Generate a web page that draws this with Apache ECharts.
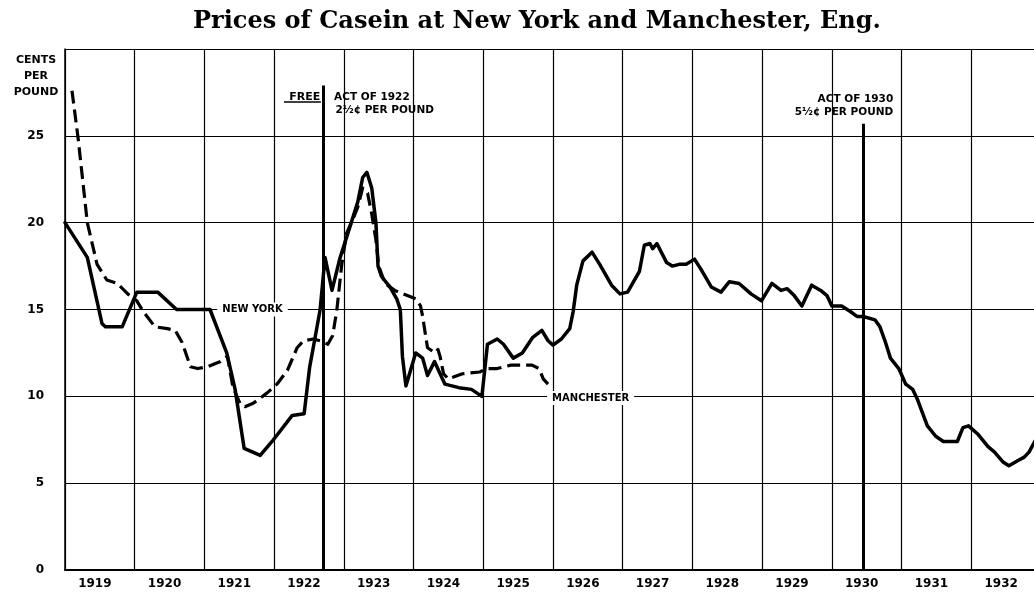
<!DOCTYPE html>
<html><head><meta charset="utf-8">
<script src="https://cdn.jsdelivr.net/npm/echarts@6/dist/echarts.min.js"></script>
<style>html,body{margin:0;padding:0;background:#fff}#c{width:1034px;height:599px}</style>
</head><body><div id="c"></div>
<script>
// ---- data ----
const years = ['1919','1920','1921','1922','1923','1924','1925','1926','1927','1928','1929','1930','1931','1932'];
const yTicks = [0, 5, 10, 15, 20, 25, 30];
const newYork = [
 [1919.00,20.0],[1919.32,18.0],[1919.53,14.2],[1919.58,14.0],[1919.82,14.0],[1920.03,16.0],[1920.33,16.0],
 [1920.60,15.0],[1921.08,15.0],[1921.32,12.5],[1921.44,10.4],[1921.57,7.0],[1921.80,6.6],[1921.97,7.4],
 [1922.26,8.9],[1922.43,9.0],[1922.46,10.0],[1922.51,11.7],[1922.57,13.0],[1922.66,15.0],[1922.73,18.0],
 [1922.83,16.1],[1922.94,17.9],[1923.09,19.8],[1923.20,21.2],[1923.27,22.6],[1923.33,22.9],[1923.40,22.0],
 [1923.46,20.0],[1923.49,17.5],[1923.54,16.9],[1923.66,16.3],[1923.76,15.6],[1923.81,15.0],[1923.84,12.3],
 [1923.89,10.6],[1924.03,12.5],[1924.13,12.2],[1924.20,11.2],[1924.30,12.0],[1924.45,10.7],[1924.65,10.5],
 [1924.83,10.4],[1924.98,10.0],[1925.06,13.0],[1925.20,13.3],[1925.29,13.0],[1925.43,12.2],[1925.56,12.5],
 [1925.71,13.4],[1925.84,13.8],[1925.93,13.2],[1926.00,12.95],[1926.12,13.3],[1926.24,13.9],[1926.29,14.9],
 [1926.34,16.4],[1926.43,17.8],[1926.56,18.3],[1926.67,17.6],[1926.84,16.4],[1926.96,15.9],[1927.07,16.0],
 [1927.24,17.2],[1927.31,18.7],[1927.39,18.8],[1927.43,18.5],[1927.49,18.8],[1927.63,17.7],[1927.71,17.5],
 [1927.81,17.6],[1927.91,17.6],[1928.03,17.9],[1928.14,17.2],[1928.27,16.3],[1928.41,16.0],[1928.53,16.6],
 [1928.67,16.5],[1928.84,15.9],[1928.99,15.5],[1929.14,16.5],[1929.27,16.1],[1929.36,16.2],[1929.46,15.8],
 [1929.57,15.2],[1929.71,16.4],[1929.84,16.1],[1929.93,15.8],[1930.00,15.2],[1930.14,15.2],[1930.26,14.9],
 [1930.36,14.6],[1930.45,14.6],[1930.62,14.4],[1930.69,14.0],[1930.77,13.1],[1930.84,12.2],[1930.96,11.6],
 [1931.06,10.7],[1931.16,10.4],[1931.23,9.8],[1931.37,8.3],[1931.49,7.7],[1931.60,7.4],[1931.80,7.4],
 [1931.88,8.2],[1931.96,8.3],[1932.10,7.8],[1932.24,7.1],[1932.33,6.8],[1932.46,6.2],[1932.54,6.0],
 [1932.67,6.3],[1932.76,6.5],[1932.83,6.8],[1932.91,7.4]
];
const manchester = [
 [1919.10,27.6],[1919.19,24.8],[1919.32,20.0],[1919.46,17.6],[1919.60,16.7],[1919.75,16.5],[1919.90,15.9],
 [1920.03,15.5],[1920.12,14.9],[1920.29,14.0],[1920.47,13.9],[1920.58,13.8],[1920.68,13.1],[1920.80,11.7],
 [1920.90,11.6],[1921.04,11.7],[1921.23,12.0],[1921.33,12.3],[1921.41,10.5],[1921.51,9.6],[1921.58,9.4],
 [1921.70,9.6],[1921.77,9.8],[1921.90,10.2],[1922.04,10.7],[1922.19,11.5],[1922.33,12.8],[1922.42,13.2],
 [1922.56,13.3],[1922.66,13.2],[1922.77,13.0],[1922.84,13.5],[1922.90,15.0],[1922.97,17.6],[1923.04,19.4],
 [1923.13,20.2],[1923.20,20.9],[1923.27,22.0],[1923.34,21.7],[1923.40,20.5],[1923.46,19.0],[1923.50,17.5],
 [1923.59,16.5],[1923.73,16.1],[1924.04,15.6],[1924.10,15.2],[1924.13,14.6],[1924.18,13.3],[1924.20,12.8],
 [1924.31,12.5],[1924.35,12.7],[1924.38,12.3],[1924.43,11.3],[1924.50,11.0],[1924.70,11.3],[1924.95,11.4],
 [1925.05,11.6],[1925.20,11.6],[1925.40,11.8],[1925.70,11.8],[1925.80,11.6],[1925.86,11.0],[1925.93,10.7],
 [1925.98,10.6]
];
const actYears = [1922.71, 1930.45];
const actTops = [27.9, 25.7];

// ---- chart ----
const chart = echarts.init(document.getElementById('c'), null, {renderer: 'canvas'});
const INK = '#000';
const labelFont = {color: INK, fontFamily: 'DejaVu Sans', fontWeight: 'bold', fontSize: 12};

chart.setOption({
  animation: false,
  backgroundColor: '#fff',
  title: {
    text: 'Prices of Casein at New York and Manchester, Eng.',
    left: 188, top: 5,
    textStyle: {fontFamily: 'DejaVu Serif', fontWeight: 'bold', fontSize: 24, color: INK}
  },
  grid: {left: 65, top: 49, width: 976, height: 521, containLabel: false, outerBoundsMode: 'none'},
  xAxis: [
    {type: 'value', min: 1919, max: 1933, interval: 1,
     axisLine: {show: true, onZero: false, lineStyle: {color: INK, width: 2}},
     axisTick: {show: false}, axisLabel: {show: false},
     splitLine: {show: true, lineStyle: {color: INK, width: 1.2}}},
    {type: 'category', data: years, position: 'bottom', boundaryGap: true,
     axisLine: {show: false}, axisTick: {show: false}, splitLine: {show: false},
     axisLabel: Object.assign({interval: 0, margin: 8, padding: [0, 10, 0, 0]}, labelFont)}
  ],
  yAxis: {type: 'value', min: yTicks[0], max: yTicks[yTicks.length - 1], interval: 5,
    axisLine: {show: true, lineStyle: {color: INK, width: 1.5}},
    axisTick: {show: false},
    splitLine: {show: true, lineStyle: {color: INK, width: 1.2}},
    axisLabel: Object.assign({margin: 21, formatter: v => (v === 30 ? '' : String(v))}, labelFont)
  },
  series: [
    {name: 'New York', type: 'line', xAxisIndex: 0, data: newYork, showSymbol: false, z: 5,
     lineStyle: {color: INK, width: 3.5, join: 'round', cap: 'round'},
     markLine: {silent: true, symbol: 'none', label: {show: false},
       lineStyle: {color: INK, width: 3, type: 'solid'},
       data: actYears.map((yr, i) => [{coord: [yr, 0]}, {coord: [yr, actTops[i]]}])}},
    {name: 'Manchester', type: 'line', xAxisIndex: 0, data: manchester, showSymbol: false, z: 4,
     lineStyle: {color: INK, width: 3.2, type: [13, 6], join: 'round'}}
  ]
});

// ---- annotations positioned through the axes ----
const px = p => chart.convertToPixel({xAxisIndex: 0, yAxisIndex: 0}, p);
const small = {fill: INK, fontFamily: 'DejaVu Sans', fontWeight: 'bold', fontSize: 10.5};
const notes = [
  {t: 'NEW YORK', at: [1921.69, 15.0], align: 'center', bg: true, fs: 10},
  {t: 'MANCHESTER', at: [1926.54, 9.9], align: 'center', bg: true, fs: 10},
  {t: 'FREE', at: [1922.66, 27.2], align: 'right', fs: 11},
  {t: 'ACT OF 1922', at: [1922.86, 27.2], align: 'left'},
  {t: '2½¢ PER POUND', at: [1922.88, 26.45], align: 'left'},
  {t: 'ACT OF 1930', at: [1930.88, 27.1], align: 'right'},
  {t: '5½¢ PER POUND', at: [1930.88, 26.35], align: 'right'}
];
const g = notes.map(n => {
  const p = px(n.at);
  return {type: 'text', x: p[0], y: p[1], z: 20,
    style: Object.assign({text: n.t, align: n.align, verticalAlign: 'middle'}, small,
      n.fs ? {fontSize: n.fs} : {},
      n.bg ? {backgroundColor: '#fff', padding: [2, 5]} : {})};
});
const u0 = px([1922.14, 26.95]), u1 = px([1922.67, 26.95]);
g.push({type: 'line', z: 20, shape: {x1: u0[0], y1: u0[1], x2: u1[0], y2: u1[1]}, style: {stroke: INK, lineWidth: 1.5}});
g.push({type: 'text', x: 36, y: 52, z: 20,
  style: {text: 'CENTS\nPER\nPOUND', align: 'center', verticalAlign: 'top', lineHeight: 16,
    fill: INK, fontFamily: 'DejaVu Sans', fontWeight: 'bold', fontSize: 11}});
chart.setOption({graphic: g});
</script></body></html>
